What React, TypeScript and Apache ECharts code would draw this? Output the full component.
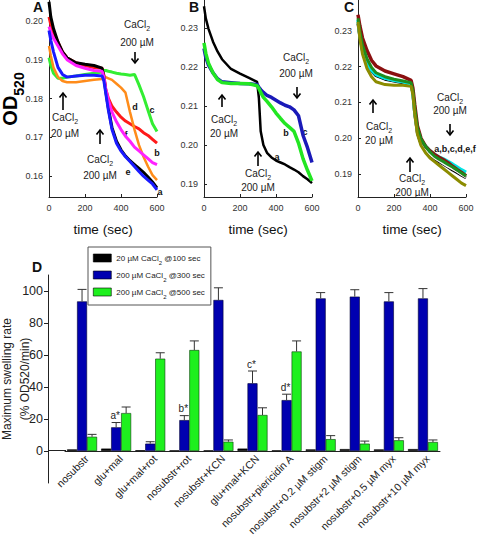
import React, { useEffect, useRef } from 'react';
import * as echarts from 'echarts';

// ---------- Panels A, B, C : OD520 vs time ----------
const timeSec = [0, 10, 25, 50, 75, 100, 150, 200, 250, 295, 305, 315, 330, 350, 375, 400, 425, 450, 475, 500, 525, 550, 575, 600];

// Panel A
const aBlack = [0.2049, 0.201, 0.198, 0.1945, 0.192, 0.1905, 0.1892, 0.1888, 0.1885, 0.1878, 0.1855, 0.182, 0.1775, 0.1725, 0.169, 0.1668, 0.1652, 0.164, 0.163, 0.162, 0.161, 0.1598, 0.1585, 0.157];
const aBlue = [0.1975, 0.195, 0.192, 0.188, 0.1862, 0.1855, 0.1858, 0.186, 0.186, 0.1858, 0.1845, 0.1815, 0.177, 0.172, 0.1685, 0.1665, 0.165, 0.1638, 0.1625, 0.1612, 0.16, 0.159, 0.158, 0.1565];
const aMagenta = [0.1985, 0.197, 0.1955, 0.1935, 0.1915, 0.19, 0.1885, 0.1878, 0.1872, 0.187, 0.1855, 0.1825, 0.1795, 0.1765, 0.174, 0.172, 0.1703, 0.169, 0.1675, 0.1665, 0.1655, 0.1645, 0.1635, 0.163];
const aRed = [0.201, 0.199, 0.197, 0.1945, 0.192, 0.1905, 0.1892, 0.1885, 0.188, 0.1878, 0.186, 0.1825, 0.18, 0.178, 0.1765, 0.1752, 0.1742, 0.1735, 0.1728, 0.1722, 0.1712, 0.1705, 0.1695, 0.1685];
const aOrange = [0.1935, 0.191, 0.188, 0.1855, 0.1845, 0.1842, 0.1842, 0.1845, 0.1848, 0.185, 0.1858, 0.1855, 0.1852, 0.1848, 0.1838, 0.1828, 0.1815, 0.1765, 0.172, 0.168, 0.165, 0.1625, 0.1603, 0.159];
const aGreen = [0.1905, 0.1885, 0.1865, 0.1852, 0.1852, 0.1855, 0.1858, 0.1862, 0.1865, 0.1868, 0.1872, 0.1872, 0.187, 0.1868, 0.1865, 0.1863, 0.1862, 0.186, 0.1862, 0.1835, 0.1805, 0.177, 0.1735, 0.1715];

// Panel B
const bBlack = [0.2356, 0.2325, 0.2298, 0.2265, 0.224, 0.222, 0.2195, 0.2183, 0.2172, 0.2162, 0.212, 0.2035, 0.2, 0.198, 0.1968, 0.196, 0.1955, 0.195, 0.1943, 0.1937, 0.193, 0.192, 0.1912, 0.1902];
const bBlue = [0.2248, 0.2225, 0.2205, 0.2185, 0.217, 0.2162, 0.216, 0.2158, 0.2157, 0.2155, 0.2148, 0.2142, 0.2135, 0.2127, 0.2122, 0.2115, 0.2108, 0.2102, 0.2098, 0.209, 0.2075, 0.2025, 0.1993, 0.1955];
const bGreen = [0.2262, 0.2235, 0.221, 0.2185, 0.2168, 0.216, 0.2158, 0.2158, 0.2157, 0.2152, 0.2145, 0.2135, 0.2122, 0.2112, 0.2098, 0.2082, 0.2068, 0.2055, 0.2045, 0.2035, 0.2005, 0.1965, 0.1935, 0.1908];

// Panel C
const cBlack = [0.232, 0.2285, 0.2245, 0.221, 0.2188, 0.2175, 0.2165, 0.216, 0.2155, 0.215, 0.2125, 0.207, 0.2015, 0.1985, 0.1965, 0.1952, 0.1942, 0.1935, 0.1928, 0.192, 0.1912, 0.1905, 0.1897, 0.189];
const cWhite = [0.233, 0.2292, 0.2252, 0.2215, 0.2192, 0.218, 0.2168, 0.2162, 0.2158, 0.2152, 0.2128, 0.2078, 0.2022, 0.199, 0.197, 0.1956, 0.1946, 0.1938, 0.193, 0.1922, 0.1915, 0.1908, 0.19, 0.1892];
const cCyan = [0.233, 0.229, 0.2245, 0.221, 0.219, 0.2178, 0.2168, 0.2162, 0.2158, 0.2152, 0.2128, 0.2075, 0.2025, 0.1995, 0.1978, 0.1965, 0.1955, 0.1948, 0.1942, 0.1935, 0.1928, 0.192, 0.1912, 0.1905];
const cBrown = [0.2345, 0.2315, 0.228, 0.2245, 0.2218, 0.2202, 0.2188, 0.218, 0.2172, 0.2162, 0.214, 0.2095, 0.2035, 0.2, 0.1978, 0.1965, 0.1955, 0.1947, 0.194, 0.1932, 0.1922, 0.1913, 0.1905, 0.1895];
const cGreen = [0.2335, 0.2298, 0.226, 0.2222, 0.2198, 0.2183, 0.2172, 0.2165, 0.216, 0.2155, 0.2132, 0.2085, 0.203, 0.1998, 0.1978, 0.1962, 0.195, 0.1942, 0.1935, 0.1927, 0.192, 0.1912, 0.1903, 0.1895];
const cOlive = [0.2325, 0.228, 0.2235, 0.2195, 0.2172, 0.2158, 0.215, 0.2148, 0.2148, 0.2145, 0.2122, 0.2068, 0.2012, 0.198, 0.196, 0.1945, 0.1935, 0.1925, 0.1915, 0.1905, 0.1895, 0.1885, 0.1875, 0.1868];

const timeTicks = [0, 200, 400, 600];
const ticksA = [0.16, 0.17, 0.18, 0.19, 0.2];
const ticksBC = [0.19, 0.2, 0.21, 0.22, 0.23];

// ---------- Panel D : bars ----------
const categories = [
  'nosubstr', 'glu+mal', 'glu+mal+rot', 'nosubstr+rot', 'nosubstr+KCN', 'glu+mal+KCN',
  'nosubstr+piericidin A', 'nosubstr+0.2 µM stigm', 'nosubstr+2 µM stigm', 'nosubstr+0.5 µM myx', 'nosubstr+10 µM myx',
];
const rate20at100 = [1.0, 1.5, 0.5, 0.4, 0.4, 1.5, 0.4, 1.0, 1.2, 1.0, 1.2];
const rate200at300 = [93.5, 14.8, 4.6, 19.3, 94.4, 42.3, 31.8, 95.4, 96.5, 93.5, 95.4];
const err200at300 = [7.5, 3.0, 1.2, 2.8, 7.6, 7.7, 3.7, 3.6, 4.3, 5.5, 6.1];
const rate200at500 = [8.9, 23.7, 57.7, 63.1, 5.8, 22.5, 62.2, 7.4, 4.6, 6.7, 5.6];
const err200at500 = [1.5, 3.8, 3.7, 5.7, 1.1, 4.5, 6.6, 2.2, 1.6, 1.6, 1.3];
const significance = ['', 'a*', '', 'b*', '', 'c*', 'd*', '', '', '', ''];
const barTicks = [0, 20, 40, 60, 80, 100];
const seriesNames = ['20 µM CaCl2 @100 sec', '200 µM CaCl2 @300 sec', '200 µM CaCl2 @500 sec'];

const FONT = '"Liberation Sans", Arial, Helvetica, sans-serif';

const pairs = (vals: number[]) => timeSec.map((t, i) => [t, vals[i]]);

const lineSeries = (idx: number, vals: number[], color: string, width = 3) => ({
  type: 'line',
  xAxisIndex: idx,
  yAxisIndex: idx,
  data: pairs(vals),
  showSymbol: false,
  silent: true,
  lineStyle: { color, width },
  itemStyle: { color },
});

const calRich = {
  n: { fontSize: 10, fontFamily: FONT, color: '#222' },
  s: { fontSize: 7, fontFamily: FONT, color: '#222', verticalAlign: 'bottom', lineHeight: 9, padding: [0, 0, -3, 0] },
};

const txt = (x: number, y: number, text: string, extra: any = {}) => ({
  type: 'text',
  x,
  y,
  silent: true,
  style: {
    text,
    fill: '#222',
    font: `10px ${FONT}`,
    fontSize: 10,
    fontFamily: FONT,
    align: 'center',
    verticalAlign: 'middle',
    textAlign: 'center',
    textVerticalAlign: 'middle',
    rich: calRich,
    ...extra,
  },
});

const arrow = (x: number, y1: number, y2: number) => {
  // y1 = head, y2 = tail
  const dir = y2 > y1 ? 1 : -1;
  return [
    { type: 'line', silent: true, shape: { x1: x, y1: y1, x2: x, y2: y2 }, style: { stroke: '#000', lineWidth: 1.6 } },
    {
      type: 'polyline', silent: true,
      shape: { points: [[x - 3.5, y1 + dir * 4.5], [x, y1], [x + 3.5, y1 + dir * 4.5]] },
      style: { stroke: '#000', lineWidth: 1.6, fill: 'none' },
    },
  ];
};

const cal = (x: number, y1: number, y2: number, second: string) => [
  txt(x, y1, '{n|CaCl}{s|2}'),
  txt(x, y2, second),
];

const letter = (x: number, y: number, t: string, size = 9) =>
  txt(x, y, t, { font: `bold ${size}px ${FONT}`, fontWeight: 'bold', fontSize: size, fill: '#111' });

const lineXAxis = (gridIndex: number) => ({
  gridIndex,
  type: 'value',
  min: 0,
  max: 600,
  interval: 200,
  axisLine: { lineStyle: { color: '#222', width: 1 } },
  axisTick: { inside: true, length: 3, lineStyle: { color: '#222' }, customValues: timeTicks },
  axisLabel: { fontSize: 9, color: '#333', fontFamily: FONT, margin: 6, customValues: timeTicks, formatter: (v: number) => String(v) },
  splitLine: { show: false },
  name: 'time (sec)',
  nameLocation: 'middle',
  nameGap: 25,
  nameMoveOverlap: false,
  nameTextStyle: { fontSize: 13.5, color: '#111', fontFamily: FONT },
});

const lineYAxis = (gridIndex: number, min: number, max: number, ticks: number[]) => ({
  gridIndex,
  type: 'value',
  min,
  max,
  axisLine: { show: true, lineStyle: { color: '#222', width: 1 } },
  axisTick: { show: true, inside: true, length: 3, lineStyle: { color: '#222' }, customValues: ticks },
  axisLabel: { fontSize: 9, color: '#333', fontFamily: FONT, margin: 6, customValues: ticks, formatter: (v: number) => v.toFixed(2) },
  splitLine: { show: false },
});

const barSeries = (name: string, vals: number[], color: string, border: string) => ({
  type: 'bar',
  name,
  xAxisIndex: 3,
  yAxisIndex: 3,
  data: vals,
  barWidth: 10,
  barGap: '0%',
  silent: true,
  itemStyle: { color, borderColor: border, borderWidth: 0.6 },
});

const errSeries = (vals: number[], errs: number[], offset: number, notes?: string[]) => ({
  type: 'custom',
  xAxisIndex: 3,
  yAxisIndex: 3,
  silent: true,
  z: 5,
  data: vals.map((v, i) => [i, v, errs[i]]),
  renderItem: (params: any, api: any) => {
    const i = api.value(0);
    const v = api.value(1);
    const e = api.value(2);
    const p0 = api.coord([i, v]);
    const p1 = api.coord([i, v + e]);
    const x = p0[0] + offset;
    const children: any[] = [
      { type: 'line', shape: { x1: x, y1: p0[1], x2: x, y2: p1[1] }, style: { stroke: '#333', lineWidth: 1 } },
      { type: 'line', shape: { x1: x - 4.5, y1: p1[1], x2: x + 4.5, y2: p1[1] }, style: { stroke: '#333', lineWidth: 1 } },
    ];
    const note = notes ? notes[params.dataIndex] : '';
    if (note) {
      children.push({
        type: 'text',
        x: x - 1,
        y: p1[1] - 2,
        style: {
          text: note,
          fill: '#222',
          font: `10px ${FONT}`,
          align: 'center',
          verticalAlign: 'bottom',
        },
      });
    }
    return { type: 'group', children };
  },
});

// rotated category labels, anchored at each category's position on the zero line
const categoryLabelSeries = {
  type: 'custom',
  xAxisIndex: 3,
  yAxisIndex: 3,
  silent: true,
  clip: false,
  data: categories.map((c, i) => [i, 0]),
  renderItem: (params: any, api: any) => {
    const p = api.coord([api.value(0), 0]);
    return {
      type: 'text',
      x: p[0] + 5,
      y: p[1] + 6,
      rotation: Math.PI / 4,
      style: {
        text: categories[params.dataIndex],
        fill: '#222',
        font: `10.5px ${FONT}`,
        align: 'right',
        verticalAlign: 'middle',
      },
    };
  },
};

const graphics: any[] = [
  // panel letters
  letter(38, 7, 'A', 14),
  letter(194, 7, 'B', 14),
  letter(349, 7, 'C', 14),
  letter(37, 267, 'D', 14),
  // OD520 label
  {
    type: 'text',
    x: 10,
    y: 99,
    rotation: Math.PI / 2,
    silent: true,
    style: {
      text: '{a|OD}{b|520}',
      align: 'center',
      verticalAlign: 'middle',
      rich: {
        a: { fontSize: 20, fontWeight: 'bold', fontFamily: FONT, color: '#000', lineHeight: 22 },
        b: { fontSize: 14, fontWeight: 'bold', fontFamily: FONT, color: '#000', lineHeight: 14, verticalAlign: 'bottom', padding: [0, 0, -5, 0] },
      },
    },
  },
  // Panel A annotations
  ...cal(137, 24, 42, '200 µM'),
  ...arrow(135, 63, 52),
  ...arrow(63, 93, 110),
  ...cal(65, 117, 133, '20 µM'),
  ...arrow(100, 130, 144),
  ...cal(100, 159, 175, '200 µM'),
  letter(135, 107, 'd'),
  letter(152, 110, 'c'),
  letter(126, 135, 'f'),
  letter(157, 153, 'b'),
  letter(128, 172, 'e'),
  letter(160, 192, 'a'),
  // Panel B annotations
  ...cal(296, 57, 73, '200 µM'),
  ...arrow(297, 98, 87),
  ...arrow(222, 95, 107),
  ...cal(224, 119, 133, '20 µM'),
  ...arrow(258, 152, 166),
  ...cal(258, 173, 187, '200 µM'),
  letter(277, 157, 'a'),
  letter(286, 133, 'b'),
  letter(305, 132, 'c'),
  // Panel C annotations
  ...arrow(373, 100, 113),
  ...cal(379, 126, 140, '20 µM'),
  ...cal(450, 97, 110, '200 µM'),
  ...arrow(450, 135, 124),
  letter(455, 149, 'a,b,c,d,e,f'),
  ...arrow(410, 158, 172),
  ...cal(412, 178, 192, '200 µM'),
  // zero line extension left of the first category (axis drawn with offset)
  { type: 'line', silent: true, shape: { x1: 48, y1: 450.5, x2: 66, y2: 450.5 }, style: { stroke: '#222', lineWidth: 1 } },
];

const option: any = {
  animation: false,
  textStyle: { fontFamily: FONT },
  grid: [
    { left: 49, top: 0, width: 108, height: 197, outerBoundsMode: 'none', containLabel: false },
    { left: 204, top: 0, width: 108, height: 197, outerBoundsMode: 'none', containLabel: false },
    { left: 358, top: 0, width: 108, height: 197, outerBoundsMode: 'none', containLabel: false },
    { left: 65, top: 275, width: 375, height: 208, outerBoundsMode: 'none', containLabel: false },
  ],
  xAxis: [
    lineXAxis(0),
    lineXAxis(1),
    lineXAxis(2),
    {
      gridIndex: 3,
      type: 'category',
      data: categories,
      axisLine: { onZero: true, lineStyle: { color: '#222', width: 1 } },
      axisTick: { show: false },
      axisLabel: { show: false },
    },
  ],
  yAxis: [
    lineYAxis(0, 0.15465, 0.20535, ticksA),
    lineYAxis(1, 0.18665, 0.2372, ticksBC),
    lineYAxis(2, 0.18363, 0.2386, ticksBC),
    {
      gridIndex: 3,
      type: 'value',
      min: -20,
      max: 110,
      offset: 17,
      axisLine: { show: true, onZero: false, lineStyle: { color: '#222', width: 1 } },
      axisTick: { show: true, length: 4, lineStyle: { color: '#222' }, customValues: barTicks },
      axisLabel: { fontSize: 12.5, color: '#222', fontFamily: FONT, margin: 5, customValues: barTicks },
      splitLine: { show: false },
      name: 'Maximum swelling rate\n(% OD520/min)',
      nameLocation: 'middle',
      nameRotate: 90,
      nameGap: 14,
      nameMoveOverlap: false,
      nameTextStyle: { fontSize: 12, color: '#222', fontFamily: FONT, lineHeight: 18 },
    },
  ],
  legend: {
    data: seriesNames,
    orient: 'vertical',
    left: 88,
    top: 247,
    padding: [6, 6, 5, 5],
    itemWidth: 18,
    itemHeight: 8,
    itemGap: 4,
    selectedMode: false,
    backgroundColor: '#fff',
    borderColor: '#555',
    borderWidth: 1,
    icon: 'rect',
    itemStyle: { borderColor: '#000', borderWidth: 0.6 },
    formatter: (name: string) => name.replace('CaCl2', 'CaCl{s|2}'),
    textStyle: {
      fontSize: 8,
      color: '#222',
      fontFamily: FONT,
      lineHeight: 10,
      rich: { s: { fontSize: 6, fontFamily: FONT, color: '#222', verticalAlign: 'bottom', lineHeight: 7, padding: [0, 0, -3, 0] } },
    },
  },
  graphic: graphics,
  series: [
    // Panel A
    lineSeries(0, aRed, '#ff1a1a'),
    lineSeries(0, aGreen, '#33ee33'),
    lineSeries(0, aOrange, '#ff8c1a', 2.5),
    lineSeries(0, aBlack, '#000000'),
    lineSeries(0, aMagenta, '#ff22ff'),
    lineSeries(0, aBlue, '#1a1aff'),
    // Panel B
    lineSeries(1, bBlack, '#000000', 2.5),
    lineSeries(1, bBlue, '#1a1ab8', 3.5),
    lineSeries(1, bGreen, '#22e622', 3.5),
    // Panel C
    lineSeries(2, cBlack, '#000000'),
    lineSeries(2, cWhite, '#f4f4f4'),
    lineSeries(2, cCyan, '#00e5e5', 3.5),
    lineSeries(2, cBrown, '#8b1010', 3.5),
    lineSeries(2, cGreen, '#1e8e1e'),
    lineSeries(2, cOlive, '#8c8c00', 3),
    // Panel D
    barSeries(seriesNames[0], rate20at100, '#000000', '#000000'),
    barSeries(seriesNames[1], rate200at300, '#0000b0', '#000033'),
    barSeries(seriesNames[2], rate200at500, '#1ef01e', '#0a3a0a'),
    errSeries(rate200at300, err200at300, 0, significance),
    errSeries(rate200at500, err200at500, 10),
    categoryLabelSeries,
  ],
};

export default function App() {
  const ref = useRef<HTMLDivElement>(null);
  useEffect(() => {
    document.body.style.margin = '0';
    if (!ref.current) return;
    const chart = echarts.init(ref.current, null, { renderer: 'svg' });
    chart.setOption(option);
    return () => chart.dispose();
  }, []);
  return <div ref={ref} style={{ width: 477, height: 538 }} />;
}
